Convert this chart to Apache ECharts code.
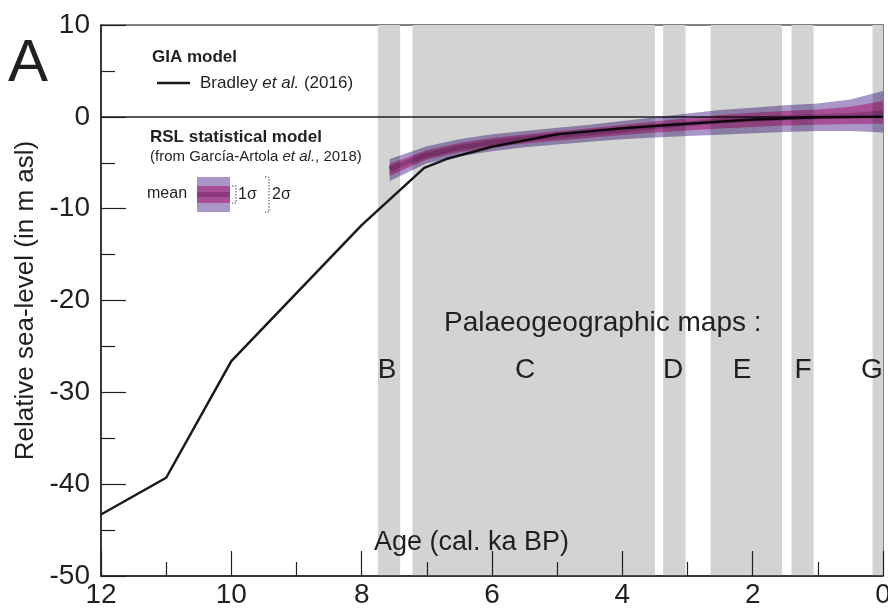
<!DOCTYPE html>
<html><head><meta charset="utf-8">
<script src="https://cdn.jsdelivr.net/npm/echarts@6/dist/echarts.min.js"></script>
<style>
html,body{margin:0;padding:0;background:#fff}
#wrap{position:relative;width:888px;height:612px;isolation:isolate;background:#fff}
#c,#c2{position:absolute;left:0;top:0;width:888px;height:612px}
#c2{mix-blend-mode:multiply;pointer-events:none}
</style>
</head><body><div id="wrap"><div id="c"></div><div id="c2"></div></div>
<script>
// GIA model (Bradley et al. 2016)
const giaAges = [12, 11, 10, 8, 7.04, 6.7, 6.0, 5.0, 4.0, 3.0, 2.0, 1.0, 0];
const giaRsl  = [-43.3, -39.3, -26.6, -11.8, -5.55, -4.6, -3.25, -1.9, -1.25, -0.75, -0.3, -0.05, 0];

// RSL statistical model (García-Artola et al. 2018)
const rslAges   = [7.57, 7.0, 6.5, 6.0, 5.5, 5.0, 4.5, 4.0, 3.5, 3.0, 2.5, 2.0, 1.5, 1.0, 0.5, 0.0];
const rslMean   = [-5.7, -4.15, -3.35, -2.8, -2.4, -2.05, -1.75, -1.4, -1.05, -0.75, -0.45, -0.25, -0.1, 0.0, 0.15, 0.4];
const rslUpper2 = [-4.6, -3.2, -2.45, -1.9, -1.55, -1.2, -0.85, -0.45, -0.05, 0.35, 0.75, 1.0, 1.25, 1.45, 1.9, 2.8];
const rslLower2 = [-7.0, -5.05, -4.3, -3.75, -3.3, -3.0, -2.7, -2.45, -2.25, -2.1, -1.95, -1.8, -1.65, -1.55, -1.55, -1.7];
const rslUpper1 = [-5.1, -3.63, -2.85, -2.3, -1.93, -1.58, -1.25, -0.88, -0.5, -0.15, 0.21, 0.44, 0.64, 0.8, 1.11, 1.72];
const rslLower1 = [-6.42, -4.65, -3.87, -3.32, -2.9, -2.57, -2.27, -1.98, -1.71, -1.49, -1.28, -1.1, -0.95, -0.85, -0.79, -0.76];

// Palaeogeographic map periods
const mapLetters   = ['B', 'C', 'D', 'E', 'F', 'G'];
const mapBandStart = [7.75, 7.22, 3.375, 2.645, 1.405, 0.16];
const mapBandEnd   = [7.41, 3.50, 3.03, 1.55, 1.065, 0];

const TXT = '#231f20';
const FONT = '"Liberation Sans", Arial, sans-serif';
const NARROW = '"Liberation Sans Narrow", "Liberation Sans", sans-serif';
const C2 = '#a997c9', C1 = '#a94f97', CM = '#8c3a7c';

const gridCfg = {left: 101, right: 5, top: 25, bottom: 36, containLabel: false, outerBoundsMode: 'none'};

const axisCommon = {
  axisLine: {show: true, onZero: false, lineStyle: {color: TXT, width: 1.5}},
  axisTick: {show: true, inside: true, length: 25, lineStyle: {color: TXT, width: 1.2}},
  minorTick: {show: true, splitNumber: 2, length: 14, lineStyle: {color: TXT, width: 1.2}},
  splitLine: {show: false},
  z: 10
};

const chart = echarts.init(document.getElementById('c'), null, {renderer: 'canvas'});
const chart2 = echarts.init(document.getElementById('c2'), null, {renderer: 'canvas'});

const option = {
  backgroundColor: '#fff',
  animation: false,
  grid: Object.assign({show: true, borderColor: '#555', borderWidth: 1.5}, gridCfg),
  xAxis: Object.assign({
    type: 'value', min: 0, max: 12, interval: 2, inverse: true, position: 'bottom',
    axisLabel: {fontSize: 28, fontFamily: NARROW, color: TXT, margin: 5, showMinLabel: true, showMaxLabel: true}
  }, axisCommon),
  yAxis: Object.assign({
    type: 'value', min: -50, max: 10, interval: 10, position: 'left',
    name: 'Relative sea-level (in m asl)', nameLocation: 'middle', nameGap: 56, nameRotate: 90,
    nameTextStyle: {fontSize: 26, fontFamily: FONT, color: TXT},
    axisLabel: {fontSize: 28, fontFamily: NARROW, color: TXT, margin: 11, showMinLabel: true, showMaxLabel: true}
  }, axisCommon),
  series: [
    {
      type: 'custom', z: 1, silent: true,
      data: mapBandStart.map((s, i) => [s, mapBandEnd[i]]),
      encode: {x: [0, 1]},
      renderItem: function (params, api) {
        const p1 = api.coord([api.value(0), 10]);
        const p2 = api.coord([api.value(1), -50]);
        return {type: 'rect', shape: {x: p1[0], y: p1[1], width: p2[0] - p1[0], height: p2[1] - p1[1]},
                style: {fill: '#d3d3d3'}};
      }
    },
    {
      type: 'line', z: 6, silent: true, symbol: 'none',
      data: giaAges.map((a, i) => [a, giaRsl[i]]),
      lineStyle: {color: '#1a1a1a', width: 2.5},
      markLine: {silent: true, symbol: 'none', label: {show: false},
                 lineStyle: {color: TXT, width: 1.5, type: 'solid'}, data: [{yAxis: 0}]}
    }
  ],
  graphic: [
    {type: 'text', x: 8, y: 64, z: 100, style: {text: 'A', font: '60px ' + FONT, fill: TXT, verticalAlign: 'middle'}},
    {type: 'text', x: 152, y: 57, z: 100, style: {text: 'GIA model', font: 'bold 17px ' + FONT, fill: TXT, verticalAlign: 'middle'}},
    {type: 'line', z: 100, shape: {x1: 157, y1: 83, x2: 190, y2: 83}, style: {stroke: '#1a1a1a', lineWidth: 2.5}},
    {type: 'text', x: 200, y: 83, z: 100, style: {
      text: '{n|Bradley }{i|et al.}{n| (2016)}', verticalAlign: 'middle',
      rich: {n: {font: '17px ' + FONT, fill: TXT}, i: {font: 'italic 17px ' + FONT, fill: TXT}}}},
    {type: 'text', x: 150, y: 137, z: 100, style: {text: 'RSL statistical model', font: 'bold 17px ' + FONT, fill: TXT, verticalAlign: 'middle'}},
    {type: 'text', x: 150, y: 157, z: 100, style: {
      text: '{n|(from García-Artola }{i|et al.}{n|, 2018)}', verticalAlign: 'middle',
      rich: {n: {font: '15px ' + FONT, fill: TXT}, i: {font: 'italic 15px ' + FONT, fill: TXT}}}},
    {type: 'text', x: 147, y: 194, z: 100, style: {text: 'mean', font: '16px ' + FONT, fill: TXT, verticalAlign: 'middle'}},
    {type: 'rect', z: 100, shape: {x: 197, y: 177, width: 33, height: 35}, style: {fill: C2}},
    {type: 'rect', z: 101, shape: {x: 197, y: 186, width: 33, height: 17}, style: {fill: C1}},
    {type: 'rect', z: 102, shape: {x: 197, y: 192, width: 33, height: 5}, style: {fill: CM}},
    {type: 'polyline', z: 100, shape: {points: [[232, 186], [236, 186], [236, 203], [232, 203]]},
      style: {stroke: '#444', lineWidth: 1, lineDash: [1.5, 1.5], fill: null}},
    {type: 'text', x: 238, y: 195, z: 100, style: {text: '1σ', font: '16px ' + FONT, fill: TXT, verticalAlign: 'middle'}},
    {type: 'polyline', z: 100, shape: {points: [[265, 177], [269, 177], [269, 212], [265, 212]]},
      style: {stroke: '#444', lineWidth: 1, lineDash: [1.5, 1.5], fill: null}},
    {type: 'text', x: 272, y: 195, z: 100, style: {text: '2σ', font: '16px ' + FONT, fill: TXT, verticalAlign: 'middle'}},
    {type: 'text', x: 444, y: 323, z: 100, style: {text: 'Palaeogeographic maps :', font: '28px ' + FONT, fill: TXT, verticalAlign: 'middle'}},
    {type: 'text', x: 374, y: 543, z: 100, style: {text: 'Age (cal. ka BP)', font: '27px ' + FONT, fill: TXT, verticalAlign: 'middle'}}
  ].concat(mapLetters.map((L, i) => ({
    type: 'text', x: [387, 525, 673, 742, 803, 872][i], y: 370, z: 100,
    style: {text: L, font: '28px ' + FONT, fill: TXT, align: 'center', verticalAlign: 'middle'}
  })))
};
chart.setOption(option);

// Uncertainty envelope, drawn on an overlay canvas blended with "multiply"
function bandSeries(upper, lower, color, z) {
  return {
    type: 'custom', z: z, silent: true, clip: true,
    data: [[rslAges[0], rslMean[0]]],
    encode: {x: 0, y: 1},
    renderItem: function (params, api) {
      const pts = [];
      for (let i = 0; i < rslAges.length; i++) pts.push(api.coord([rslAges[i], upper[i]]));
      for (let i = rslAges.length - 1; i >= 0; i--) pts.push(api.coord([rslAges[i], lower[i]]));
      return {type: 'polygon', shape: {points: pts}, style: {fill: color}};
    }
  };
}
chart2.setOption({
  animation: false,
  backgroundColor: 'transparent',
  grid: gridCfg,
  xAxis: {type: 'value', min: 0, max: 12, inverse: true, show: false},
  yAxis: {type: 'value', min: -50, max: 10, show: false},
  series: [
    bandSeries(rslUpper2, rslLower2, C2, 2),
    bandSeries(rslUpper1, rslLower1, C1, 3),
    {
      type: 'custom', z: 4, silent: true, clip: true,
      data: [[rslAges[0], rslMean[0]]],
      encode: {x: 0, y: 1},
      renderItem: function (params, api) {
        const pts = rslAges.map((a, i) => api.coord([a, rslMean[i]]));
        return {type: 'polyline', shape: {points: pts}, style: {stroke: CM, lineWidth: 5, fill: null}};
      }
    }
  ]
});
</script></body></html>
